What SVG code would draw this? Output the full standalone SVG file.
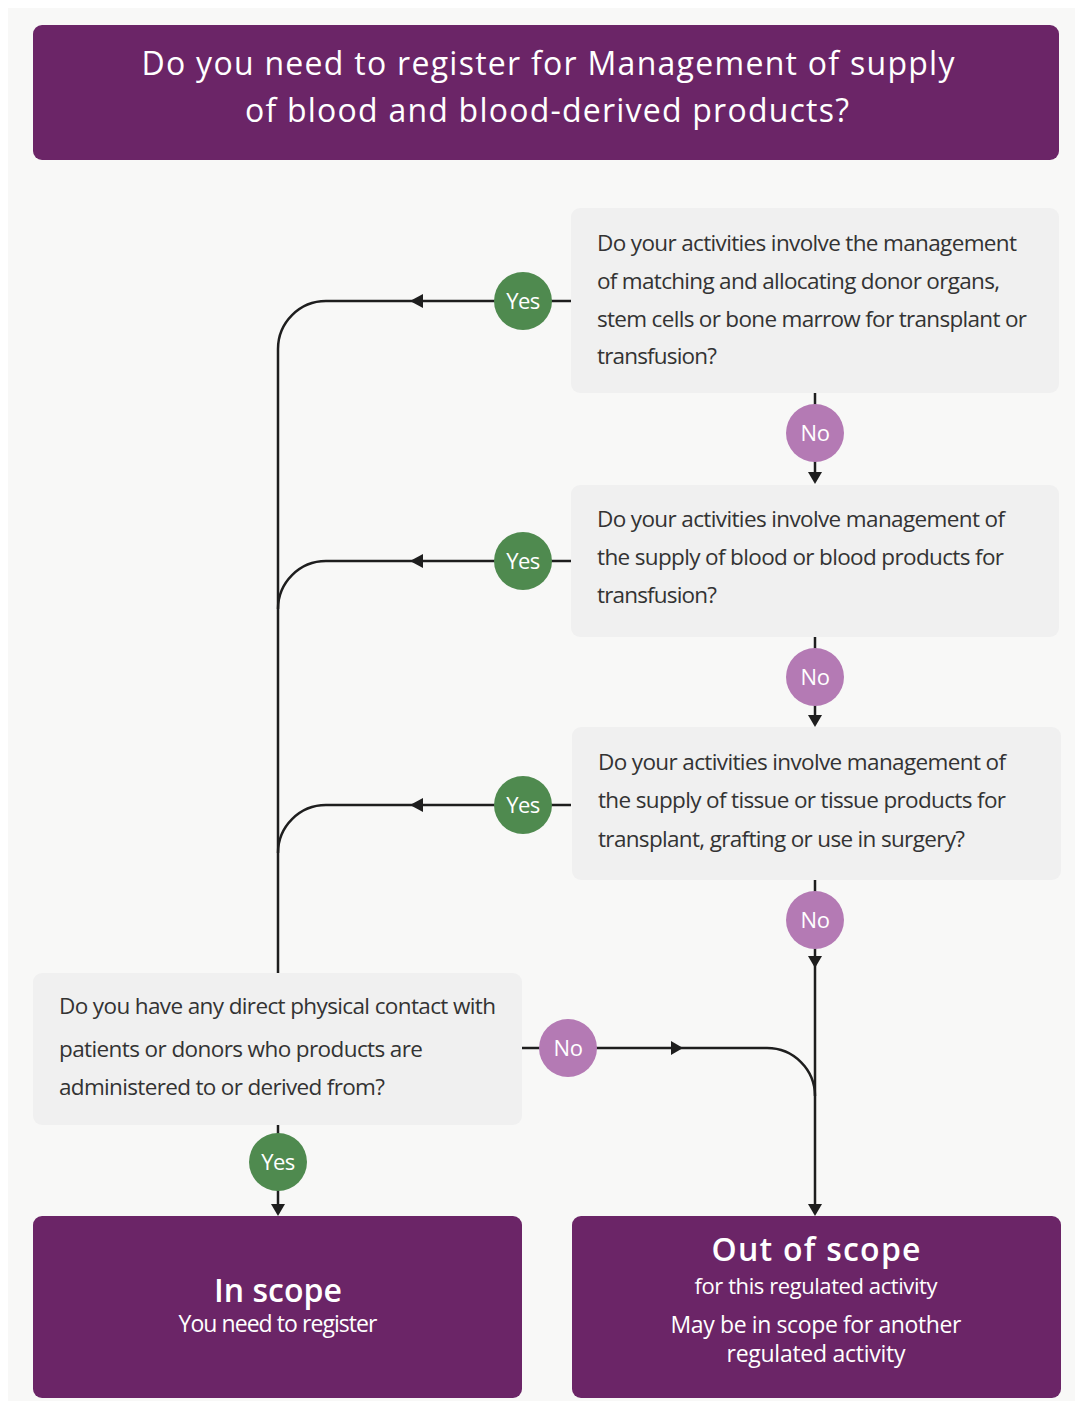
<svg xmlns="http://www.w3.org/2000/svg" width="1078" height="1403" viewBox="0 0 1078 1403">
<style>
  .panel{fill:#f8f8f7}
  .title{fill:#6b2567}
  .q{fill:#f0f0f0}
  .qt{font-family:"Open Sans","Liberation Sans",sans-serif;font-size:22.5px;fill:#333333}
  .tt{font-family:"Open Sans","Liberation Sans",sans-serif;font-size:32px;fill:#ffffff;text-anchor:middle}
  .big{font-family:"Open Sans","Liberation Sans",sans-serif;font-size:32px;font-weight:600;fill:#ffffff;text-anchor:middle}
  .sub{font-family:"Open Sans","Liberation Sans",sans-serif;font-size:23px;fill:#ffffff;text-anchor:middle}
  .yes{fill:#4f8a4f}
  .no{fill:#b47ab4}
  .lbl{font-family:"Open Sans","Liberation Sans",sans-serif;font-size:22px;fill:#ffffff;text-anchor:middle;letter-spacing:-0.5px}
  .ln{fill:none;stroke:#1e1e1e;stroke-width:2.5}
  .ah{fill:#1e1e1e}
</style>
<rect x="0" y="0" width="1078" height="1403" fill="#ffffff"/>
<rect class="panel" x="8" y="8" width="1067" height="1393"/>

<g id="connectors">
  <path class="ln" d="M571 301 H326 A48 48 0 0 0 278 349 V973"/>
  <path class="ln" d="M571 561 H326 A48 48 0 0 0 278 609"/>
  <path class="ln" d="M571 805 H326 A48 48 0 0 0 278 853"/>
  <path class="ln" d="M815 393 V478"/>
  <path class="ln" d="M815 637 V721"/>
  <path class="ln" d="M815 880 V1210"/>
  <path class="ln" d="M522 1048 H767 A48 48 0 0 1 815 1096"/>
  <path class="ln" d="M278 1125 V1210"/>
  <polygon class="ah" points="410,301 423,294 423,308"/>
  <polygon class="ah" points="410,561 423,554 423,568"/>
  <polygon class="ah" points="410,805 423,798 423,812"/>
  <polygon class="ah" points="815,484 808,472 822,472"/>
  <polygon class="ah" points="815,727 808,715 822,715"/>
  <polygon class="ah" points="815,968 808,956 822,956"/>
  <polygon class="ah" points="815,1216 808,1204 822,1204"/>
  <polygon class="ah" points="683,1048 671,1041 671,1055"/>
  <polygon class="ah" points="278,1216 271,1204 285,1204"/>
</g>

<g id="title">
  <rect class="title" x="33" y="25" width="1026" height="135" rx="9"/>
  <text class="tt" x="548" y="75" textLength="813" lengthAdjust="spacing">Do you need to register for Management of supply</text>
  <text class="tt" x="547" y="122" textLength="604" lengthAdjust="spacing">of blood and blood-derived products?</text>
</g>

<g id="q1">
  <rect class="q" x="571" y="208" width="488" height="185" rx="9"/>
  <text class="qt" x="597" y="251" textLength="420" lengthAdjust="spacing">Do your activities involve the management</text>
  <text class="qt" x="597" y="289" textLength="403" lengthAdjust="spacing">of matching and allocating donor organs,</text>
  <text class="qt" x="597" y="327" textLength="430" lengthAdjust="spacing">stem cells or bone marrow for transplant or</text>
  <text class="qt" x="597" y="364" textLength="120" lengthAdjust="spacing">transfusion?</text>
</g>

<g id="q2">
  <rect class="q" x="571" y="485" width="488" height="152" rx="9"/>
  <text class="qt" x="597" y="527" textLength="408" lengthAdjust="spacing">Do your activities involve management of</text>
  <text class="qt" x="597" y="565" textLength="407" lengthAdjust="spacing">the supply of blood or blood products for</text>
  <text class="qt" x="597" y="603" textLength="120" lengthAdjust="spacing">transfusion?</text>
</g>

<g id="q3">
  <rect class="q" x="572" y="727" width="489" height="153" rx="9"/>
  <text class="qt" x="598" y="770" textLength="408" lengthAdjust="spacing">Do your activities involve management of</text>
  <text class="qt" x="598" y="808" textLength="408" lengthAdjust="spacing">the supply of tissue or tissue products for</text>
  <text class="qt" x="598" y="847" textLength="367" lengthAdjust="spacing">transplant, grafting or use in surgery?</text>
</g>

<g id="q4">
  <rect class="q" x="33" y="973" width="489" height="152" rx="9"/>
  <text class="qt" x="59" y="1014" textLength="437" lengthAdjust="spacing">Do you have any direct physical contact with</text>
  <text class="qt" x="59" y="1057" textLength="364" lengthAdjust="spacing">patients or donors who products are</text>
  <text class="qt" x="59" y="1095" textLength="326" lengthAdjust="spacing">administered to or derived from?</text>
</g>

<g id="yes1"><circle class="yes" cx="523" cy="301" r="29"/><text class="lbl" x="523" y="309">Yes</text></g>
<g id="yes2"><circle class="yes" cx="523" cy="561" r="29"/><text class="lbl" x="523" y="569">Yes</text></g>
<g id="yes3"><circle class="yes" cx="523" cy="805" r="29"/><text class="lbl" x="523" y="813">Yes</text></g>
<g id="yes4"><circle class="yes" cx="278" cy="1162" r="29"/><text class="lbl" x="278" y="1170">Yes</text></g>
<g id="no1"><circle class="no" cx="815" cy="433" r="29"/><text class="lbl" x="815" y="441">No</text></g>
<g id="no2"><circle class="no" cx="815" cy="677" r="29"/><text class="lbl" x="815" y="685">No</text></g>
<g id="no3"><circle class="no" cx="815" cy="920" r="29"/><text class="lbl" x="815" y="928">No</text></g>
<g id="no4"><circle class="no" cx="568" cy="1048" r="29"/><text class="lbl" x="568" y="1056">No</text></g>

<g id="inscope">
  <rect class="title" x="33" y="1216" width="489" height="182" rx="9"/>
  <text class="big" x="278" y="1302" textLength="128" lengthAdjust="spacing">In scope</text>
  <text class="sub" x="278" y="1332" textLength="199" lengthAdjust="spacing">You need to register</text>
</g>

<g id="outofscope">
  <rect class="title" x="572" y="1216" width="489" height="182" rx="9"/>
  <text class="big" x="816" y="1261" textLength="209" lengthAdjust="spacing">Out of scope</text>
  <text class="sub" x="816" y="1294" textLength="243" lengthAdjust="spacing" style="font-size:22px">for this regulated activity</text>
  <text class="sub" x="816" y="1333" textLength="291" lengthAdjust="spacing">May be in scope for another</text>
  <text class="sub" x="816" y="1362" textLength="179" lengthAdjust="spacing">regulated activity</text>
</g>
</svg>
